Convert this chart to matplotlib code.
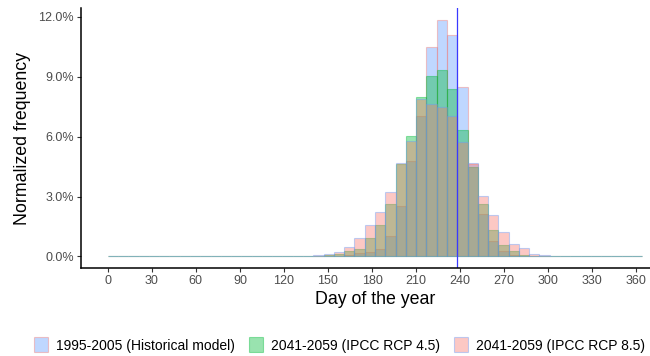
import numpy as np
import matplotlib
matplotlib.use("Agg")
import matplotlib.pyplot as plt
from matplotlib.patches import Patch
from matplotlib.ticker import FuncFormatter

plt.rcParams['font.family'] = ['Liberation Sans', 'DejaVu Sans']

# Histogram data: 7-day bins, values in percent
bin_width = 7
n_bins = 52              # bins cover day 0 .. 364
first_bin_start = 126    # first bin holding any non-zero value

hist_1995_2005 = [0.01, 0.01, 0.02, 0.02, 0.05, 0.10, 0.18, 0.22, 0.40, 1.05,
                  2.51, 4.80, 7.06, 10.49, 11.84, 11.11, 8.50, 4.62, 2.13, 0.80,
                  0.30, 0.10, 0.02, 0.01, 0.00, 0.00, 0.00]
rcp45_2041_2059 = [0.00, 0.01, 0.02, 0.08, 0.13, 0.30, 0.38, 0.93, 1.59, 2.64,
                   4.62, 6.06, 8.00, 9.05, 9.35, 8.37, 6.32, 4.50, 2.64, 1.31,
                   0.60, 0.30, 0.10, 0.05, 0.02, 0.00, 0.00]
rcp85_2041_2059 = [0.01, 0.03, 0.07, 0.15, 0.25, 0.48, 0.93, 1.59, 2.21, 3.24,
                   4.67, 5.81, 7.88, 7.64, 7.47, 7.06, 5.73, 4.70, 3.02, 2.09,
                   1.23, 0.65, 0.43, 0.15, 0.07, 0.03, 0.01]

series_labels = ["1995-2005 (Historical model)",
                 "2041-2059 (IPCC RCP 4.5)",
                 "2041-2059 (IPCC RCP 8.5)"]
fill_colors = ["#619CFF", "#00BA38", "#F8766D"]
edge_colors = ["#F8766D", "#00BA38", "#619CFF"]

reference_day = 238
x_ticks = list(range(0, 361, 30))
y_ticks = [0, 3, 6, 9, 12]


def full_series(values):
    """Pad a series with empty bins so it covers the whole year."""
    out = np.zeros(n_bins)
    start = first_bin_start // bin_width
    out[start:start + len(values)] = values
    return out


fig = plt.figure(figsize=(6.5, 3.56), dpi=100)
ax = fig.add_axes([0.1246, 0.2463, 0.9046, 0.7303])

bin_edges = np.arange(n_bins) * bin_width
for values, fc, ec in zip([hist_1995_2005, rcp45_2041_2059, rcp85_2041_2059],
                          fill_colors, edge_colors):
    ax.bar(bin_edges, full_series(values), width=bin_width, align='edge',
           color=matplotlib.colors.to_rgba(fc, 0.4),
           edgecolor=matplotlib.colors.to_rgba(ec, 0.4), linewidth=0.8)

ax.axvline(reference_day, color="#3a3aff", linewidth=0.9)

ymax = max(max(hist_1995_2005), max(rcp45_2041_2059), max(rcp85_2041_2059))
ax.set_ylim(-0.05 * ymax, 1.05 * ymax)
xspan = n_bins * bin_width
ax.set_xlim(-0.05 * xspan, 1.05 * xspan)

ax.set_xticks(x_ticks)
ax.set_yticks(y_ticks)
ax.yaxis.set_major_formatter(FuncFormatter(lambda v, p: f"{v:.1f}%"))
ax.tick_params(axis='both', labelsize=9, colors='#4d4d4d', length=3,
               width=0.8, pad=2)
ax.tick_params(axis='both', color='#333333')

for side in ['top', 'right']:
    ax.spines[side].set_visible(False)
for side in ['left', 'bottom']:
    ax.spines[side].set_linewidth(1.1)
    ax.spines[side].set_color('black')

ax.set_xlabel("Day of the year", fontsize=12.8, labelpad=3)
ax.set_ylabel("Normalized frequency", fontsize=12.8, labelpad=5)

handles = [Patch(facecolor=matplotlib.colors.to_rgba(fc, 0.4),
                 edgecolor=matplotlib.colors.to_rgba(ec, 0.4), linewidth=0.8)
           for fc, ec in zip(fill_colors, edge_colors)]
fig.legend(handles, series_labels, loc='center', ncol=3,
           bbox_to_anchor=(0.522, 0.031), frameon=False, fontsize=10,
           handlelength=1.0, handleheight=1.3, handletextpad=0.6,
           columnspacing=1.0)

plt.savefig("out.png", dpi=100)
